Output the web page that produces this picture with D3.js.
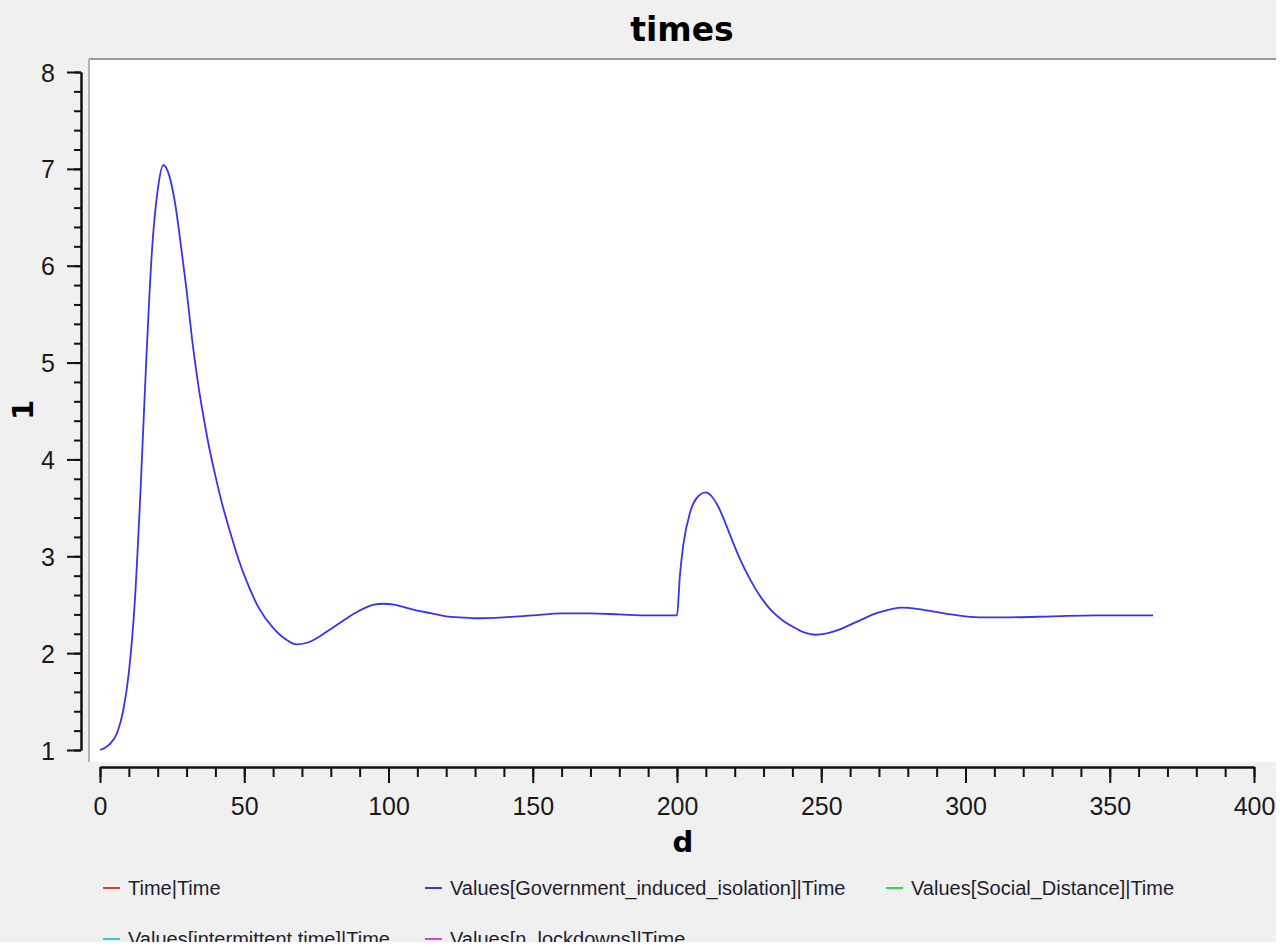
<!DOCTYPE html>
<html>
<head>
<meta charset="utf-8">
<script src="https://cdn.jsdelivr.net/npm/d3@7"></script>
<style>
  html, body { margin: 0; padding: 0; background: #ffffff; }
  svg { display: block; }
</style>
</head>
<body>
<script>
// ---- data ----
const days = [0,3,6,8,10,12,14,16,18,20,22,24,26,28,30,32,34,36,38,40,42,45,48,51,55,60,65,68,72,76,80,85,90,95,98,102,106,110,115,120,125,130,140,150,160,170,180,190,200,201,202.2,204.5,206.8,210,212,214,216,218,220,222,225,229,233,237,240,244,248,252,256,262,270,278,285,295,305,315,330,345,365];
const isolation = [1.00,1.05,1.18,1.40,1.80,2.50,3.65,5.00,6.15,6.78,7.04,6.93,6.65,6.22,5.75,5.22,4.78,4.42,4.10,3.83,3.58,3.26,2.97,2.73,2.47,2.26,2.13,2.09,2.11,2.17,2.25,2.35,2.44,2.50,2.51,2.50,2.47,2.44,2.41,2.38,2.37,2.36,2.37,2.39,2.41,2.41,2.40,2.39,2.39,2.80,3.12,3.45,3.60,3.66,3.62,3.53,3.40,3.25,3.10,2.96,2.78,2.58,2.43,2.33,2.275,2.215,2.19,2.205,2.24,2.32,2.42,2.47,2.45,2.40,2.37,2.37,2.38,2.39,2.39];
const xMajorTicks = [0,50,100,150,200,250,300,350,400];
const yMajorTicks = [1,2,3,4,5,6,7,8];
const legendNames = ["Time|Time","Values[Government_induced_isolation]|Time","Values[Social_Distance]|Time","Values[intermittent time]|Time","Values[n_lockdowns]|Time"];
const legendColors = ["#e83a3a","#3a3ad8","#3ad83a","#3ac0e8","#e03ae0"];
const title = "times", xLabel = "d", yLabel = "1";

const W = 1280, H = 947;
const svg = d3.select("body").append("svg").attr("width", W).attr("height", H);

svg.append("rect").attr("x",0).attr("y",0).attr("width",1276).attr("height",942).attr("fill","#f0f0f0");

const x = d3.scaleLinear().domain([0,400]).range([100,1254]);
const y = d3.scaleLinear().domain([1,8]).range([750,72]);

// plot area
svg.append("rect").attr("x",89).attr("y",59).attr("width",1187).attr("height",703).attr("fill","#ffffff");
svg.append("line").attr("x1",89).attr("y1",59).attr("x2",1276).attr("y2",59).attr("stroke","#9a9a9a").attr("stroke-width",2);
svg.append("line").attr("x1",89).attr("y1",59).attr("x2",89).attr("y2",762).attr("stroke","#b4b4b4").attr("stroke-width",2);

// title
svg.append("text").attr("x",682).attr("y",41).attr("text-anchor","middle")
  .attr("font-family","DejaVu Sans").attr("font-weight","bold").attr("font-size",33).attr("fill","#000").text(title);

// y axis
const yMinor = d3.range(1, 8.0001, 0.2).map(v => +v.toFixed(1));
const gyMinor = svg.append("g").attr("transform","translate(81,0)")
  .call(d3.axisLeft(y).tickValues(yMinor).tickSize(7).tickSizeOuter(0).tickFormat(""));
const gy = svg.append("g").attr("transform","translate(81,0)")
  .call(d3.axisLeft(y).tickValues(yMajorTicks).tickSize(14).tickSizeOuter(0).tickPadding(12).tickFormat(d3.format("d")));
[gyMinor, gy].forEach(g => {
  g.selectAll("path,line").attr("stroke","#111").attr("stroke-width",2);
});
gy.selectAll("text").attr("font-family","Liberation Sans").attr("font-size",25).attr("fill","#1a1a1a").attr("dy","0.36em");

// x axis
const xMinor = d3.range(0, 401, 10);
const gxMinor = svg.append("g").attr("transform","translate(0,767)")
  .call(d3.axisBottom(x).tickValues(xMinor).tickSize(10).tickSizeOuter(0).tickFormat(""));
const gx = svg.append("g").attr("transform","translate(0,767)")
  .call(d3.axisBottom(x).tickValues(xMajorTicks).tickSize(16).tickSizeOuter(0).tickPadding(14).tickFormat(d3.format("d")));
[gxMinor, gx].forEach(g => {
  g.selectAll("path,line").attr("stroke","#111").attr("stroke-width",2);
});
gx.selectAll("text").attr("font-family","Liberation Sans").attr("font-size",25).attr("fill","#1a1a1a");

// axis labels
svg.append("text").attr("x",683).attr("y",852).attr("text-anchor","middle")
  .attr("font-family","DejaVu Sans").attr("font-weight","bold").attr("font-size",29).attr("fill","#000").text(xLabel);
svg.append("text").attr("transform","translate(33,410) rotate(-90)").attr("text-anchor","middle")
  .attr("font-family","DejaVu Sans").attr("font-weight","bold").attr("font-size",29).attr("fill","#000").text(yLabel);

// line
const data = days.map((d,i) => ({d, v: isolation[i]}));
const line = d3.line().x(p => x(p.d)).y(p => y(p.v)).curve(d3.curveMonotoneX);
svg.append("path").datum(data).attr("d", line).attr("fill","none")
  .attr("stroke","#3434f4").attr("stroke-width",1.8).attr("stroke-linejoin","round");

// legend (clipped at bottom, as in the reference)
svg.append("clipPath").attr("id","legclip").append("rect").attr("x",0).attr("y",0).attr("width",1276).attr("height",942);
const leg = svg.append("g").attr("clip-path","url(#legclip)");
const legPos = [[103,888],[425,888],[886,888],[103,939],[425,939]];
legendNames.forEach((name,i) => {
  const [lx, ly] = legPos[i];
  leg.append("line").attr("x1",lx).attr("x2",lx+17).attr("y1",ly).attr("y2",ly)
    .attr("stroke",legendColors[i]).attr("stroke-width",2);
  leg.append("text").attr("x",lx+25).attr("y",ly).attr("dy","0.35em")
    .attr("font-family","Liberation Sans").attr("font-size",20).attr("fill","#1e1e2e").text(name);
});
svg.append("rect").attr("x",0).attr("y",942).attr("width",W).attr("height",5).attr("fill","#ffffff");
</script>
</body>
</html>
